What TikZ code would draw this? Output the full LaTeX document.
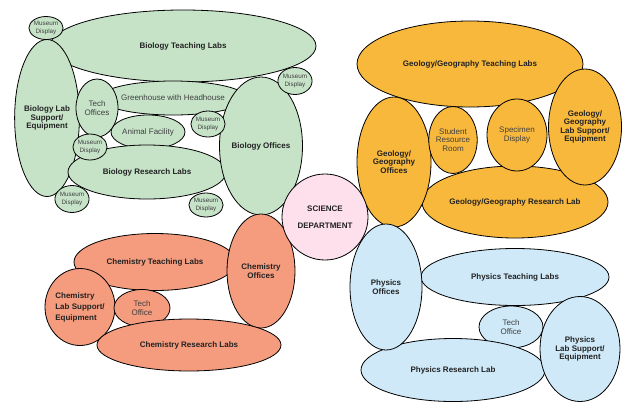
\documentclass[tikz,border=0pt]{standalone}
\usepackage{fontspec}
\setmainfont{Liberation Sans}
\usetikzlibrary{shapes.geometric}
\definecolor{bioC}{HTML}{C6E3C8}
\definecolor{chemC}{HTML}{F59C7E}
\definecolor{geoC}{HTML}{F8B83C}
\definecolor{phyC}{HTML}{CFE9F8}
\definecolor{sciC}{HTML}{FDE0EC}
\definecolor{txtC}{HTML}{222222}
\definecolor{lightTxt}{HTML}{404040}
\tikzset{
  room/.style={ellipse, draw=black, line width=0.8pt, inner sep=0pt, align=center, text=txtC,
    font=\fontsize{8}{8.6}\selectfont\bfseries},
  plain/.style={font=\fontsize{8}{8.6}\selectfont, text=lightTxt},
  museum/.style={room, font=\fontsize{6.3}{7.2}\selectfont, text=lightTxt},
  bio/.style={room, fill=bioC},
  chem/.style={room, fill=chemC},
  geo/.style={room, fill=geoC},
  phy/.style={room, fill=phyC},
  sci/.style={room, fill=sciC},
  sz/.style 2 args={minimum width=#1pt, minimum height=#2pt}
}
\begin{document}
\begin{tikzpicture}[x=1pt,y=-1pt]
\useasboundingbox (0,0) rectangle (628,402);
% Biology
\node[bio, sz={266}{72}] (btl) at (183,46) {Biology Teaching Labs};
\node[bio, sz={64}{157}] (bls) at (47,118) {Biology Lab\\Support/\\Equipment};
\node[bio, plain, sz={116}{34}] (bgh) at (173,98) {Greenhouse with Headhouse};
\node[bio, plain, sz={74}{34}] (baf) at (148,132) {Animal Facility};
\node[bio, plain, sz={42}{58}] (bto) at (97,108) {Tech\\Offices};
\node[bio, sz={158}{54}] (brl) at (147,172) {Biology Research Labs};
\node[bio, sz={78}{138}] (bof) at (261,146) {Biology Offices};
\node[bio, museum, sz={30}{23}] (m1) at (46,28) {Museum\\Display};
\node[bio, museum, sz={30}{27}] (m2) at (295,81) {Museum\\Display};
\node[bio, museum, sz={30}{26}] (m3) at (208,124) {Museum\\Display};
\node[bio, museum, sz={30}{26}] (m4) at (90,147) {Museum\\Display};
\node[bio, museum, sz={30}{27}] (m5) at (72,199) {Museum\\Display};
\node[bio, museum, sz={31}{24}] (m6) at (206,205) {Museum\\Display};
% Chemistry
\node[chem, sz={162}{57}] (ctl) at (155,262) {Chemistry Teaching Labs};
\node[chem, sz={68}{114}] (cof) at (261,271) {Chemistry\\Offices};
\node[chem, sz={70}{77}, align=left, font=\fontsize{8}{11}\selectfont\bfseries] (cls) at (80,307) {Chemistry\\Lab Support/\\Equipment};
\node[chem, plain, sz={56}{37}] (cto) at (142,308) {Tech\\Office};
\node[chem, sz={184}{52}] (crl) at (189,345) {Chemistry Research Labs};
% Geology
\node[geo, sz={226}{86}] (gtl) at (470,64) {Geology/Geography Teaching Labs};
\node[geo, sz={186}{72}] (grl) at (515,202) {Geology/Geography Research Lab};
\node[geo, sz={73}{116}] (gls) at (585,127) {Geology/\\Geography\\Lab Support/\\Equipment};
\node[geo, sz={74}{130}] (gof) at (394,162) {Geology/\\Geography\\Offices};
\node[geo, plain, sz={48}{67}] (gsr) at (453,140) {Student\\Resource\\Room};
\node[geo, plain, sz={60}{72}] (gsd) at (517,135) {Specimen\\Display};
% Physics
\node[phy, sz={188}{57}] (ptl) at (515,277) {Physics Teaching Labs};
\node[phy, plain, sz={64}{42}] (pto) at (511,327) {Tech\\Office};
\node[phy, sz={184}{63}] (prl) at (453,370) {Physics Research Lab};
\node[phy, sz={72}{126}] (pof) at (386,287) {Physics\\Offices};
\node[phy, sz={80}{105}] (pls) at (580,349) {Physics\\Lab Support/\\Equipment};
% Science department
\node[sci, sz={86}{86}, font=\fontsize{8}{17}\selectfont\bfseries] (sci) at (325,217) {SCIENCE\\DEPARTMENT};
\end{tikzpicture}
\end{document}
